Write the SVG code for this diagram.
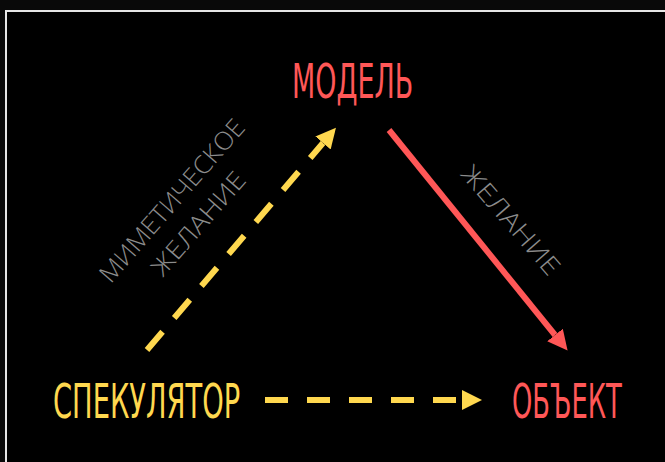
<svg xmlns="http://www.w3.org/2000/svg" width="665" height="462" viewBox="0 0 665 462">
  <style>
    .title { font-family: "DejaVu Sans Condensed", "DejaVu Sans", "Liberation Sans", sans-serif; font-size: 48px; }
    .red { fill: #ff5757; }
    .yellow { fill: #ffd84f; }
    .lbl { font-family: "Open Sans", "Lato", "DejaVu Sans", sans-serif; font-weight: 300; font-size: 25px; fill: #8c8c8c; text-anchor: middle; }
    .ydash { fill: none; stroke: #ffd84f; stroke-width: 6; }
    .rline { fill: none; stroke: #ff5757; stroke-width: 6; }
  </style>
  <defs>
    <marker id="ahY" markerUnits="userSpaceOnUse" markerWidth="20" markerHeight="20" refX="0" refY="10" orient="auto" viewBox="0 0 20 20">
      <path d="M0,0 L20,10 L0,20 z" fill="#ffd84f"/>
    </marker>
    <marker id="ahR" markerUnits="userSpaceOnUse" markerWidth="20" markerHeight="20" refX="0" refY="10" orient="auto" viewBox="0 0 20 20">
      <path d="M0,0 L20,10 L0,20 z" fill="#ff5757"/>
    </marker>
  </defs>
  <rect x="0" y="0" width="665" height="462" fill="#090909"/>
  <rect x="6" y="11" width="680" height="470" fill="#000" stroke="#e6e6e6" stroke-width="2"/>

  <g id="connectors">
    <path id="spec-model" class="ydash" d="M147,350 L323,143" stroke-dasharray="24 18" marker-end="url(#ahY)"/>
    <path id="spec-object" class="ydash" d="M265,400 L462,400" stroke-dasharray="23 19" marker-end="url(#ahY)"/>
    <path id="model-object" class="rline" d="M389,130 L555,335" marker-end="url(#ahR)"/>
  </g>

  <g id="labels">
    <g transform="translate(185,212) rotate(-49)">
      <text class="lbl" x="0" y="-8.5" textLength="207" lengthAdjust="spacingAndGlyphs">МИМЕТИЧЕСКОЕ</text>
      <text class="lbl" x="0" y="26.5" textLength="129" lengthAdjust="spacingAndGlyphs">ЖЕЛАНИЕ</text>
    </g>
    <g transform="translate(511,220) rotate(49)">
      <text class="lbl" x="0" y="9" textLength="136" lengthAdjust="spacingAndGlyphs">ЖЕЛАНИЕ</text>
    </g>
  </g>

  <g id="model">
    <text class="title red" transform="translate(292,98) scale(0.6,1)" x="0" y="0" textLength="202" lengthAdjust="spacingAndGlyphs">МОДЕЛЬ</text>
  </g>
  <g id="speculator">
    <text class="title yellow" transform="translate(53,418) scale(0.6,1)" x="0" y="0" textLength="312" lengthAdjust="spacingAndGlyphs">СПЕКУЛЯТОР</text>
  </g>
  <g id="object">
    <text class="title red" transform="translate(512,418) scale(0.6,1)" x="0" y="0" textLength="183" lengthAdjust="spacingAndGlyphs">ОБЪЕКТ</text>
  </g>
</svg>
